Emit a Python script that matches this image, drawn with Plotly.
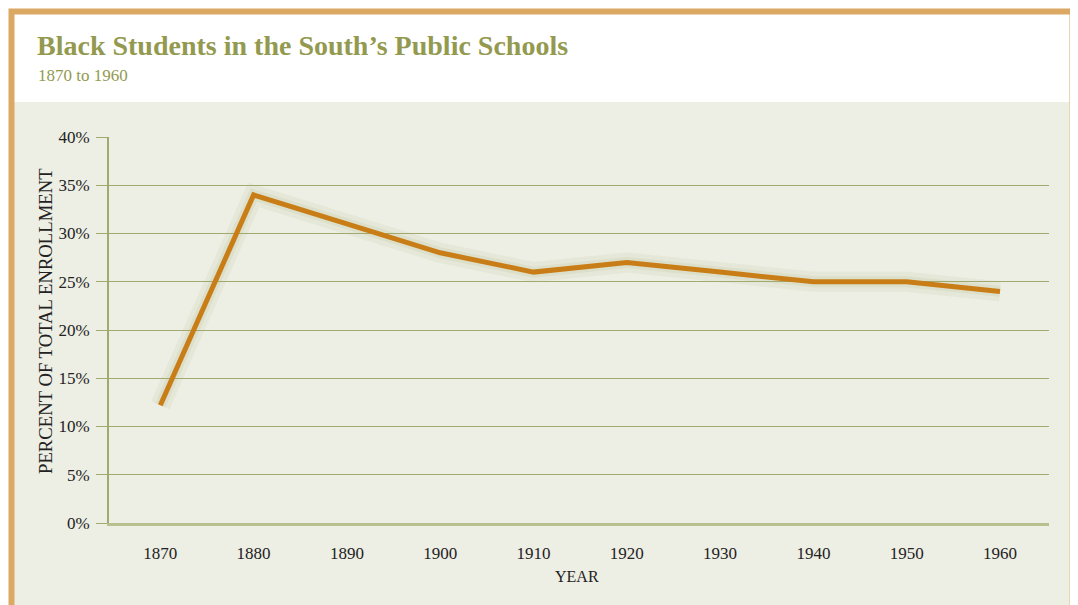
import plotly.graph_objects as go

years = [1870, 1880, 1890, 1900, 1910, 1920, 1930, 1940, 1950, 1960]
percent_black = [12.2, 34.0, 31.0, 28.0, 26.0, 27.0, 26.0, 25.0, 25.0, 24.0]
y_ticks = [0, 5, 10, 15, 20, 25, 30, 35, 40]
y_tick_labels = ["0%", "5%", "10%", "15%", "20%", "25%", "30%", "35%", "40%"]

title_text = "Black Students in the South\u2019s Public Schools"
subtitle_text = "1870 to 1960"
y_title = "PERCENT OF TOTAL ENROLLMENT"
x_title = "YEAR"

OFF = 8  # page body margin
W, H = 1070, 597
# plot area in screen pixels
L, R, T, B = 109, 1049, 137, 523

def px(p):
    return (p - L) / (R - L)

def py(p):
    return (B - p) / (B - T)

OLIVE = "#939A4F"
GRID = "#A2A96E"
BORDER = "#DBA963"
BEIGE = "#EDEEE4"
LINE = "#C97D17"
FONT = "Liberation Serif"

fig = go.Figure()
# soft glow under the line
fig.add_trace(go.Scatter(x=years, y=percent_black, mode="lines",
                         line=dict(color="rgba(170,178,120,0.10)", width=20),
                         hoverinfo="skip", showlegend=False))
fig.add_trace(go.Scatter(x=years, y=percent_black, mode="lines",
                         line=dict(color="rgba(170,178,120,0.14)", width=11),
                         hoverinfo="skip", showlegend=False))
fig.add_trace(go.Scatter(x=years, y=percent_black, mode="lines",
                         line=dict(color=LINE, width=5),
                         showlegend=False))

shapes = [
    dict(type="rect", xref="paper", yref="paper", layer="below",
         x0=px(14), x1=px(1069), y0=py(620), y1=py(102),
         fillcolor=BEIGE, line=dict(width=0)),
    dict(type="rect", xref="paper", yref="paper", layer="above",
         x0=px(11.5), x1=px(1072.5), y0=py(650), y1=py(11.5),
         fillcolor="rgba(0,0,0,0)", line=dict(color=BORDER, width=6)),
]

annotations = [
    dict(text=title_text, xref="paper", yref="paper", x=px(35), y=py(45),
         xanchor="left", yanchor="middle", showarrow=False,
         font=dict(family=FONT, size=28, color=OLIVE, weight="bold")),
    dict(text=subtitle_text, xref="paper", yref="paper", x=px(36), y=py(75),
         xanchor="left", yanchor="middle", showarrow=False,
         font=dict(family=FONT, size=17, color=OLIVE)),
    dict(text=y_title, xref="paper", yref="paper", x=px(45), y=py(321),
         xanchor="center", yanchor="middle", showarrow=False, textangle=-90,
         font=dict(family=FONT, size=18.7, color="#222222")),
    dict(text=x_title, xref="paper", yref="paper", x=px(577), y=py(576),
         xanchor="center", yanchor="middle", showarrow=False,
         font=dict(family=FONT, size=16, color="#222222")),
]

fig.update_layout(
    width=W, height=H,
    margin=dict(l=L - OFF, r=W - (R - OFF), t=T - OFF, b=H - (B - OFF), pad=0),
    paper_bgcolor="white",
    plot_bgcolor="rgba(0,0,0,0)",
    shapes=shapes,
    annotations=annotations,
    font=dict(family=FONT, size=16, color="#222222"),
    xaxis=dict(range=[1864.5, 1965.25], tickmode="array", tickvals=years,
               ticktext=[str(y) for y in years], showgrid=False, zeroline=False,
               showline=True, linecolor="#B9C08F", linewidth=3,
               ticks="outside", ticklen=13, tickcolor="rgba(0,0,0,0)",
               tickfont=dict(family=FONT, size=17, color="#222222"),
               fixedrange=True),
    yaxis=dict(range=[0, 40], tickmode="array", tickvals=y_ticks,
               ticktext=y_tick_labels, showgrid=True, gridcolor=GRID,
               gridwidth=1, zeroline=False, showline=True, linecolor=GRID,
               linewidth=2, ticks="outside", ticklen=11, tickcolor=GRID,
               tickwidth=1, ticklabelstandoff=3,
               tickfont=dict(family=FONT, size=17, color="#222222"),
               fixedrange=True),
)

fig.write_html("out.html")
